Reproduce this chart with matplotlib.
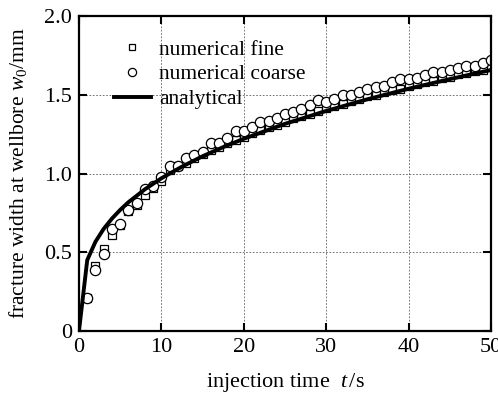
import matplotlib.pyplot as plt
import numpy as np

plt.rcParams['font.family'] = 'Liberation Serif'
plt.rcParams['mathtext.fontset'] = 'custom'
plt.rcParams['mathtext.rm'] = 'Liberation Serif'
plt.rcParams['mathtext.it'] = 'Liberation Serif:italic'

# injection time of the numerical samples (s)
t_num = list(range(1, 51))

# wellbore fracture width, fine mesh (mm)
w_fine = [0.21, 0.415, 0.52, 0.61, 0.67, 0.76, 0.80, 0.865, 0.91, 0.95,
          1.02, 1.045, 1.07, 1.10, 1.125, 1.15, 1.17, 1.195, 1.215, 1.235,
          1.255, 1.275, 1.295, 1.31, 1.33, 1.35, 1.365, 1.38, 1.40, 1.415,
          1.43, 1.445, 1.46, 1.475, 1.49, 1.50, 1.515, 1.53, 1.54, 1.555,
          1.57, 1.58, 1.59, 1.605, 1.615, 1.63, 1.64, 1.65, 1.66, 1.675]

# wellbore fracture width, coarse mesh (mm)
w_coarse = [0.21, 0.39, 0.49, 0.645, 0.68, 0.77, 0.815, 0.90, 0.92, 0.98,
            1.05, 1.05, 1.10, 1.12, 1.14, 1.195, 1.195, 1.225, 1.27, 1.27,
            1.295, 1.33, 1.335, 1.35, 1.38, 1.39, 1.41, 1.435, 1.465, 1.455,
            1.475, 1.50, 1.50, 1.52, 1.54, 1.55, 1.555, 1.58, 1.60, 1.60,
            1.605, 1.625, 1.645, 1.645, 1.655, 1.67, 1.685, 1.685, 1.70, 1.72]

# analytical solution
t_ana = [0, 1, 2, 3, 4, 5, 6, 8, 10, 12.5, 15, 17.5, 20, 25, 30, 35, 40, 45, 50]
w_ana = [0, 0.45, 0.567, 0.649, 0.714, 0.769, 0.818, 0.90, 0.97, 1.044,
         1.11, 1.168, 1.221, 1.316, 1.398, 1.472, 1.539, 1.60, 1.658]

fig = plt.figure(figsize=(4.98, 3.94), dpi=100)
ax = fig.add_axes([0.1586, 0.160, 0.8274, 0.799])

ax.plot(t_num, w_fine, 's', ms=5.8, mfc='white', mec='black', mew=0.9,
        label='numerical fine')
ax.plot(t_num, w_coarse, 'o', ms=7.4, mfc='white', mec='black', mew=0.9,
        label='numerical coarse')
ax.plot(t_ana, w_ana, '-', color='black', lw=2.8, label='analytical')

ax.set_xlim(0, 50)
ax.set_ylim(0, 2.0)
ax.set_xticks([0, 10, 20, 30, 40, 50])
ax.set_yticks([0, 0.5, 1.0, 1.5, 2.0])
ax.set_yticklabels(['0', '0.5', '1.0', '1.5', '2.0'])
ax.grid(True, ls=(0, (2, 2)), color='#333333', lw=0.6, alpha=0.8)
ax.tick_params(direction='in', length=6, width=1.5, top=True, right=True,
               labelsize=16, pad=5)
for s in ax.spines.values():
    s.set_linewidth(1.6)

ax.set_xlabel('injection time  $t\\,$/s', fontsize=16, labelpad=10)
ax.set_ylabel('fracture width at wellbore $w_0$/mm', fontsize=15.5, labelpad=11)

leg = ax.legend(loc='upper left', frameon=False, fontsize=15.5,
                handlelength=1.75, handletextpad=0.35, labelspacing=0.22,
                borderaxespad=0.0, markerscale=0.8,
                bbox_to_anchor=(0.063, 0.953))

fig.savefig('out.png', dpi=100)
